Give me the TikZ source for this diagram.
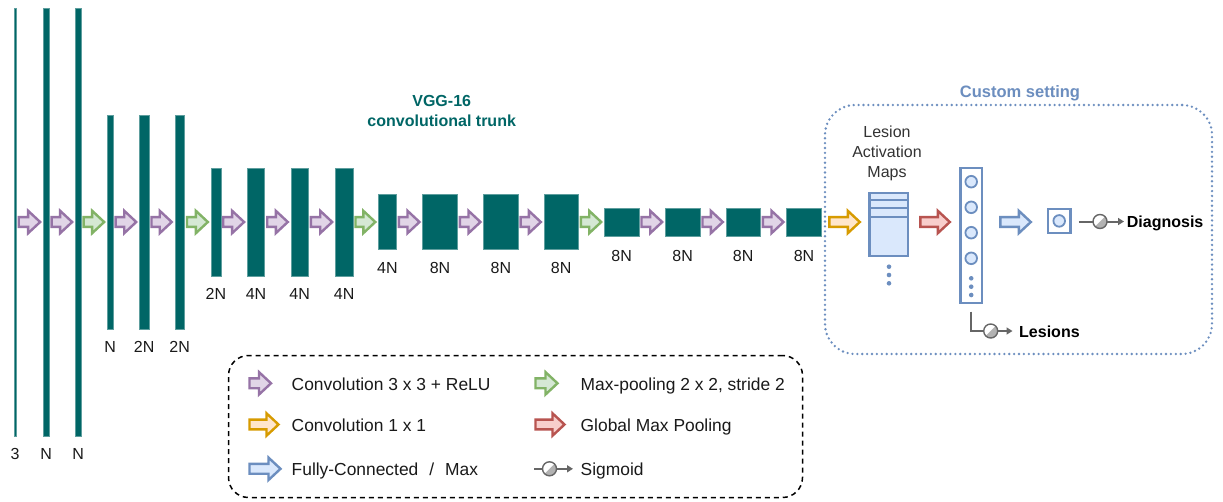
\documentclass[tikz,border=0pt]{standalone}
\usepackage{fontspec}
\setmainfont{Liberation Sans}
\usetikzlibrary{arrows.meta,calc}
\definecolor{teal1}{HTML}{006666}
\definecolor{tealedge}{HTML}{5E9E9E}
\definecolor{purpF}{HTML}{E1D5E7}\definecolor{purpD}{HTML}{9673A6}
\definecolor{grnF}{HTML}{D5E8D4}\definecolor{grnD}{HTML}{82B366}
\definecolor{orgF}{HTML}{FFE6CC}\definecolor{orgD}{HTML}{D79B00}
\definecolor{redF}{HTML}{F8CECC}\definecolor{redD}{HTML}{B85450}
\definecolor{bluF}{HTML}{DAE8FC}\definecolor{bluD}{HTML}{6C8EBF}
\definecolor{sigD}{HTML}{666666}
\definecolor{txt}{HTML}{1A1A1A}
\definecolor{txtg}{HTML}{333333}
% block arrow: #1 draw colour, #2 fill colour, #3 tail point, #4 tip point
\newcommand{\barrow}[4]{\draw[draw=#1,fill=#2,line width=2.4pt,line join=miter]
  let \p1=#3, \p2=#4 in
  (\x1,\y1+4.9pt) -- (\x2-12pt,\y1+4.9pt) -- (\x2-12pt,\y1+11.2pt) -- (\x2,\y1)
  -- (\x2-12pt,\y1-11.2pt) -- (\x2-12pt,\y1-4.9pt) -- (\x1,\y1-4.9pt) -- cycle;}
% sigmoid circle: #1 centre x, #2 y, #3 radius
\newcommand{\sigcirc}[3]{%
  \fill[white] (#1,#2) circle[radius=#3];
  \fill[gray!60] ([shift={(#1,#2)}]45:#3) arc[start angle=45,end angle=-135,radius=#3] -- cycle;
  \draw[sigD,line width=1.4pt] (#1,#2) circle[radius=#3];}
\tikzset{
  bar/.style={fill=teal1,draw=tealedge,line width=0.5pt,inner sep=0pt,outer sep=0pt},
  lbl/.style={font=\fontsize{16}{19}\selectfont,text=txt,inner sep=0pt,anchor=base},
  legtxt/.style={font=\fontsize{17.4}{20}\selectfont,text=txt,inner sep=0pt,anchor=base west},
  boldtxt/.style={font=\fontsize{16}{19}\selectfont\bfseries,text=black,inner sep=0pt,anchor=base west},
  bluebox/.style={draw=bluD,fill=bluF,line width=2.4pt,inner sep=0pt,outer sep=0pt},
  neuron/.style={draw=bluD,fill=bluF,line width=1.8pt},
  bdot/.style={fill=bluD},
  sigline/.style={draw=sigD,line width=2pt,-{Triangle[length=6pt,width=7pt]}},
}
\begin{document}
\begin{tikzpicture}[x=1pt,y=-1pt]
\useasboundingbox (0,0) rectangle (1223,501);
\fill[white] (0,0) rectangle (1223,501);

% ---- VGG-16 bars and labels
\foreach \i/\cx/\w/\h/\lab/\off in {
  1/15/2.4/428/3/23.8, 2/46.2/5.7/428/N/23.8, 3/78.2/5.7/428/N/23.8,
  4/110.2/5.7/214.3/N/23.8, 5/144.2/9.5/214.3/2N/23.8, 6/179.7/9.5/214.3/2N/23.8,
  7/215.9/9.7/107.7/2N/23.8, 8/256/17.4/107.7/4N/23.8, 9/299.7/17.4/107.7/4N/23.8,
  10/344.2/17.6/107.7/4N/23.8, 11/387.4/17.8/54.7/4N/23.8, 12/440/34.6/54.7/8N/23.8,
  13/500.9/34.4/54.7/8N/23.8, 14/561.2/34.4/54.7/8N/23.8, 15/621.7/34.6/28.4/8N/25.5,
  16/682.7/34.6/28.4/8N/25.5, 17/743.2/34.4/28.4/8N/25.5, 18/804/34.6/28.4/8N/25.5}{
  \node[bar,minimum width=\w,minimum height=\h] (b\i) at (\cx,222) {};
  \node[lbl] (l\i) at ($(b\i.south)+(0,\off)$) {\lab};
}

% ---- arrows between bars
\foreach \ia/\ib/\dc/\fc in {1/2/purpD/purpF, 2/3/purpD/purpF, 3/4/grnD/grnF,
  4/5/purpD/purpF, 5/6/purpD/purpF, 6/7/grnD/grnF, 7/8/purpD/purpF,
  8/9/purpD/purpF, 9/10/purpD/purpF, 10/11/grnD/grnF, 11/12/purpD/purpF,
  12/13/purpD/purpF, 13/14/purpD/purpF, 14/15/grnD/grnF, 15/16/purpD/purpF,
  16/17/purpD/purpF, 17/18/purpD/purpF}{
  \barrow{\dc}{\fc}{($(b\ia.east)+(2.5,0)$)}{($(b\ib.west)+(-3.2,0)$)}
}

% ---- title
\node[font=\fontsize{16}{19}\selectfont\bfseries,text=teal1,inner sep=0pt,anchor=base] (t1) at (441.7,106.5) {VGG-16};
\node[font=\fontsize{16}{19}\selectfont\bfseries,text=teal1,inner sep=0pt,anchor=base] (t2) at (441.7,126.5) {convolutional trunk};

% ---- custom setting box
\node[draw=bluD,line width=2.6pt,dash pattern=on 0pt off 4.9pt,line cap=round,
  rounded corners=30pt,minimum width=387,minimum height=249,inner sep=0pt] (cust) at (1018.5,229.5) {};
\node[font=\fontsize{16.5}{19}\selectfont\bfseries,text=bluD,inner sep=0pt,anchor=base] (custt) at (1020,97) {Custom setting};

% lesion activation maps
\node[font=\fontsize{16}{19}\selectfont,text=txtg,inner sep=0pt,anchor=base] (m1) at (887,137.5) {Lesion};
\node[font=\fontsize{16}{19}\selectfont,text=txtg,inner sep=0pt,anchor=base] (m2) at (887,157.5) {Activation};
\node[font=\fontsize{16}{19}\selectfont,text=txtg,inner sep=0pt,anchor=base] (m3) at (887,177) {Maps};
\node[bluebox,minimum width=38.5,minimum height=63.1] (lam) at (888.8,224.5) {};
\foreach \yy in {200,208.3,216.7}
  \draw[bluD,line width=2.2pt] (lam.west |- 0,\yy) -- (lam.east |- 0,\yy);
\foreach \yy in {266.7,275,283.3} \fill[bdot] (889,\yy) circle[radius=2.3pt];

% vector
\node[bluebox,fill=white,minimum width=21.8,minimum height=134.8] (vec) at (971.2,235.3) {};
\foreach \yy in {181.7,207.3,232.7,258.3} \draw[neuron] (971.2,\yy) circle[radius=5.8pt];
\foreach \yy in {278.3,286.7,295} \fill[bdot] (971.2,\yy) circle[radius=2.3pt];

% output box
\node[bluebox,fill=white,minimum width=22.5,minimum height=23.8] (sb) at (1059.2,220.9) {};
\draw[neuron] (sb.center) circle[radius=5.8pt];

% arrows in custom part
\barrow{orgD}{orgF}{($(b18.east)+(8,0)$)}{(859.8,222)}
\barrow{redD}{redF}{(920.3,222)}{(949.8,222)}
\barrow{bluD}{bluF}{(1000.3,222)}{(1030.8,222)}

% diagnosis sigmoid
\coordinate (dend) at (1124,221.5);
\draw[sigline] ($(sb.east)+(8.5,0.6)$) -- (dend);
\sigcirc{1100}{221.5}{7pt}
\node[boldtxt] (diag) at (1126.7,227.5) {Diagnosis};

% lesions sigmoid
\coordinate (lend) at (1012.5,331);
\draw[sigline] ($(vec.south)+(0,9)$) |- (lend);
\sigcirc{990.7}{331}{7pt}
\node[boldtxt] (les) at (1019,337.5) {Lesions};

% ---- legend
\node[draw=black,line width=1.5pt,dash pattern=on 5pt off 4pt,rounded corners=20pt,
  minimum width=574,minimum height=142,inner sep=0pt] (leg) at (515.5,426.5) {};
\barrow{purpD}{purpF}{(249.5,383.3)}{(271,383.3)}
\node[legtxt] (lg1) at (291.5,390) {Convolution 3 x 3 + ReLU};
\barrow{grnD}{grnF}{(535.5,383.3)}{(557.5,383.3)}
\node[legtxt] (lg2) at (580.5,390) {Max-pooling 2 x 2, stride 2};
\barrow{orgD}{orgF}{(249.5,424.5)}{(278.5,424.5)}
\node[legtxt] (lg3) at (291.5,431) {Convolution 1 x 1};
\barrow{redD}{redF}{(535.5,424.5)}{(564.5,424.5)}
\node[legtxt] (lg4) at (580.5,431) {Global Max Pooling};
\barrow{bluD}{bluF}{(249.5,468.8)}{(280.5,468.8)}
\node[legtxt] (lg5) at (291.5,475) {Fully-Connected\hspace{11pt}/\hspace{11pt}Max};
\coordinate (sgs) at (534,468.8);
\coordinate (sge) at (573,468.8);
\draw[sigline] (sgs) -- (sge);
\sigcirc{549.5}{468.8}{7pt}
\node[legtxt] (lg6) at (580.5,475) {Sigmoid};
\end{tikzpicture}
\end{document}
